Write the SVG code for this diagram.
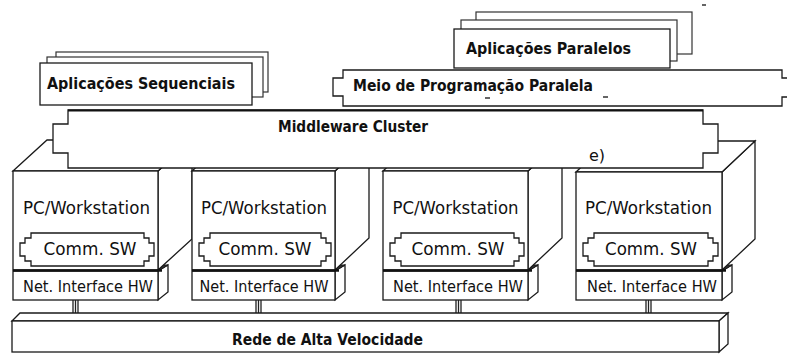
<svg xmlns="http://www.w3.org/2000/svg" width="787" height="354" viewBox="0 0 787 354">
  <style>
    .box { fill: #fff; stroke: #1a1a1a; stroke-width: 1.3; stroke-linejoin: miter; }
    .back { fill: #fff; stroke: #333; stroke-width: 1.2; }
    .dark { fill: #333; stroke: #1a1a1a; stroke-width: 1; }
    .heavy { stroke: #111; stroke-width: 2.6; fill: none; }
    .stub { stroke: #222; stroke-width: 1.3; fill: none; }
    .lbl { font-family: "DejaVu Sans", Verdana, sans-serif; font-weight: bold; font-size: 15px; fill: #111; }
    .pc { font-family: "DejaVu Sans", Verdana, sans-serif; font-size: 17px; fill: #111; text-anchor: middle; }
    .nic { font-family: "DejaVu Sans", Verdana, sans-serif; font-size: 15px; fill: #111; text-anchor: middle; }
  </style>

  <!-- Workstation nodes: box with software layer on a network interface card -->
  <g id="node-ws1">
    <polygon class="box" points="158,271 168,265 168,292 158,300"/>
    <polygon class="dark" points="13,271 23,265 168,265 158,271"/>
    <rect class="box" x="13" y="271" width="145" height="29"/>
    <polygon class="box" points="158,171 192,140 192,239 158,270"/>
    <polygon class="box" points="13,171 47,140 192,140 158,171"/>
    <rect class="box" x="13" y="171" width="145" height="99"/>
    <line class="heavy" x1="13" y1="270.5" x2="162" y2="270.5"/>
    <path class="box" d="M31,233 H144 V238 H149 V243 H154 V256 H149 V261 H144 V266 H31 V261 H25 V256 H20 V243 H25 V238 H31 Z"/>
    <text class="pc" x="86.5" y="214" textLength="127" lengthAdjust="spacingAndGlyphs">PC/Workstation</text>
    <text class="pc" x="90" y="255" textLength="93" lengthAdjust="spacingAndGlyphs">Comm. SW</text>
    <text class="nic" x="88" y="292" textLength="130" lengthAdjust="spacingAndGlyphs">Net. Interface HW</text>
  </g>

  <g id="node-ws2">
    <polygon class="box" points="335,271 345,265 345,292 335,300"/>
    <polygon class="dark" points="192,271 202,265 345,265 335,271"/>
    <rect class="box" x="192" y="271" width="143" height="29"/>
    <polygon class="box" points="335,171 369,140 369,238 335,270"/>
    <polygon class="box" points="192,171 226,140 369,140 335,171"/>
    <rect class="box" x="192" y="171" width="143" height="99"/>
    <line class="heavy" x1="192" y1="270.5" x2="339" y2="270.5"/>
    <path class="box" d="M210,233 H321 V238 H326 V243 H331 V256 H326 V261 H321 V266 H210 V261 H204 V256 H199 V243 H204 V238 H210 Z"/>
    <text class="pc" x="264" y="214" textLength="126" lengthAdjust="spacingAndGlyphs">PC/Workstation</text>
    <text class="pc" x="265" y="255" textLength="93" lengthAdjust="spacingAndGlyphs">Comm. SW</text>
    <text class="nic" x="264" y="292" textLength="129" lengthAdjust="spacingAndGlyphs">Net. Interface HW</text>
  </g>

  <g id="node-ws3">
    <polygon class="box" points="528,271 538,265 538,292 528,300"/>
    <polygon class="dark" points="383,271 393,265 538,265 528,271"/>
    <rect class="box" x="383" y="271" width="145" height="29"/>
    <polygon class="box" points="528,171 562,140 562,238 528,270"/>
    <polygon class="box" points="383,171 417,140 562,140 528,171"/>
    <rect class="box" x="383" y="171" width="145" height="99"/>
    <line class="heavy" x1="383" y1="270.5" x2="532" y2="270.5"/>
    <path class="box" d="M401,233 H514 V238 H519 V243 H524 V256 H519 V261 H514 V266 H401 V261 H395 V256 H390 V243 H395 V238 H401 Z"/>
    <text class="pc" x="455.5" y="214" textLength="126" lengthAdjust="spacingAndGlyphs">PC/Workstation</text>
    <text class="pc" x="458" y="255" textLength="93" lengthAdjust="spacingAndGlyphs">Comm. SW</text>
    <text class="nic" x="458" y="292" textLength="130" lengthAdjust="spacingAndGlyphs">Net. Interface HW</text>
  </g>

  <g id="node-ws4">
    <polygon class="box" points="722,271 732,265 732,292 722,300"/>
    <polygon class="dark" points="576,271 586,265 732,265 722,271"/>
    <rect class="box" x="576" y="271" width="146" height="29"/>
    <polygon class="box" points="722,172 755,141 755,239 722,270"/>
    <polygon class="box" points="576,172 609,141 755,141 722,172"/>
    <rect class="box" x="576" y="172" width="146" height="98"/>
    <line class="heavy" x1="576" y1="270.5" x2="726" y2="270.5"/>
    <path class="box" d="M594,233 H708 V238 H713 V243 H718 V256 H713 V261 H708 V266 H594 V261 H588 V256 H583 V243 H588 V238 H594 Z"/>
    <text class="pc" x="648.5" y="214" textLength="127" lengthAdjust="spacingAndGlyphs">PC/Workstation</text>
    <text class="pc" x="651" y="255" textLength="92" lengthAdjust="spacingAndGlyphs">Comm. SW</text>
    <text class="nic" x="652" y="292" textLength="130" lengthAdjust="spacingAndGlyphs">Net. Interface HW</text>
  </g>

  <!-- Links from each network card down to the high-speed network -->
  <g id="connectors">
    <path class="stub" d="M73,300 V313 M75.5,300 V313 M78,300 V313"/>
    <path class="stub" d="M256,300 V313 M258.5,300 V313 M261,300 V313"/>
    <path class="stub" d="M456,300 V313 M458.5,300 V313 M461,300 V313"/>
    <path class="stub" d="M646,300 V313 M648.5,300 V313 M651,300 V313"/>
  </g>

  <!-- High-speed network bar -->
  <g id="node-network">
    <polygon class="box" points="12,321 20,313 728,313 719,321"/>
    <polygon class="box" points="719,321 728,313 728,344 719,352"/>
    <rect class="box" x="12" y="321" width="707" height="31"/>
    <text class="lbl" x="232" y="345" textLength="191" lengthAdjust="spacingAndGlyphs">Rede de Alta Velocidade</text>
  </g>

  <!-- Cluster middleware layer -->
  <g id="node-middleware">
    <path class="box" d="M68,110 H703 V124 H718 V153 H703 V168 H68 V153 H53 V124 H68 Z"/>
    <line x1="68" y1="110.5" x2="703" y2="110.5" stroke="#111" stroke-width="2"/>
    <text class="lbl" x="278" y="132" textLength="150" lengthAdjust="spacingAndGlyphs">Middleware Cluster</text>
    <text x="589" y="161" font-family="DejaVu Sans, Verdana, sans-serif" font-size="16" fill="#111">e)</text>
  </g>

  <!-- Sequential applications (stacked) -->
  <g id="node-seq-apps">
    <rect class="back" x="56" y="52" width="212" height="40"/>
    <rect class="back" x="47" y="57" width="216" height="40"/>
    <rect class="box" x="40" y="63" width="212" height="42"/>
    <text class="lbl" x="47" y="89" textLength="188" lengthAdjust="spacingAndGlyphs">Aplicações Sequenciais</text>
  </g>

  <!-- Parallel applications (stacked) -->
  <g id="node-par-apps">
    <rect class="back" x="476" y="12" width="216" height="42"/>
    <rect class="back" x="461" y="20" width="216" height="41"/>
    <rect class="box" x="454" y="29" width="216" height="39"/>
    <text class="lbl" x="466" y="54" textLength="165" lengthAdjust="spacingAndGlyphs">Aplicações Paralelos</text>
  </g>

  <!-- Parallel programming environment -->
  <g id="node-par-env">
    <path class="box" d="M343,70 H782 V78 H792 V97 H782 V106 H343 V96 H333 V78 H343 Z"/>
    <text class="lbl" x="353" y="91" textLength="240" lengthAdjust="spacingAndGlyphs">Meio de Programação Paralela</text>
    <path d="M485,98 H490 M603,97 H608 M702,5 H706" stroke="#333" stroke-width="1.3"/>
  </g>
</svg>
